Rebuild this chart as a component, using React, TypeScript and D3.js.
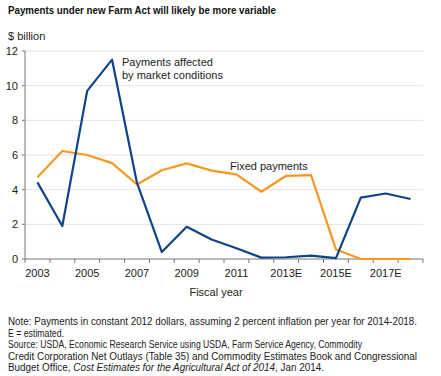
import React from "react";
import * as d3 from "d3";

const years = ["2003","2004","2005","2006","2007","2008","2009","2010","2011","2012","2013E","2014E","2015E","2016E","2017E","2018E"];
const xTickLabels = ["2003","2005","2007","2009","2011","2013E","2015E","2017E"];
const marketPayments = [4.42,1.9,9.7,11.5,4.4,0.4,1.86,1.13,0.62,0.08,0.1,0.2,0.05,3.54,3.78,3.46];
const fixedPayments = [4.71,6.23,6.0,5.53,4.3,5.12,5.52,5.1,4.88,3.88,4.8,4.84,0.55,0,0,0];
const yTicks = [0,2,4,6,8,10,12];

const W = 441, H = 376;
const left = 25, right = 423, top = 51, bottom = 259;
const FONT = "Liberation Sans, Arial, Helvetica, sans-serif";

export default function App() {
  const x = d3.scaleBand<string>().domain(years).range([left, right]);
  const y = d3.scaleLinear().domain([0, 12]).range([bottom, top]);
  const line = d3.line<number>()
    .x((_, i) => (x(years[i]) as number) + x.bandwidth() / 2)
    .y(d => y(d));
  const boundaries = years.map(yr => x(yr) as number).concat([right]);

  return (
    <svg width={W} height={H} style={{ position: "absolute", left: 0, top: 0, background: "#fff" }} fontFamily={FONT}>
      <text x={8} y={14} fontSize={11} fontWeight="bold" fill="#111" textLength={268} lengthAdjust="spacingAndGlyphs">Payments under new Farm Act will likely be more variable</text>
      <text x={8} y={40} fontSize={11} fill="#222">$ billion</text>
      {yTicks.map(t => (
        <g key={t}>
          {t > 0 && <line x1={left} x2={right} y1={y(t)} y2={y(t)} stroke="#e3e3e3" strokeWidth={1} />}
          <line x1={left - 3} x2={left} y1={y(t)} y2={y(t)} stroke="#777" />
          <text x={18} y={y(t)} dy="0.35em" textAnchor="end" fontSize={11} fill="#222">{t}</text>
        </g>
      ))}
      <line x1={left} x2={left} y1={top} y2={bottom} stroke="#777" />
      <line x1={left} x2={right} y1={bottom} y2={bottom} stroke="#777" />
      {boundaries.map((b, i) => (
        <line key={i} x1={b} x2={b} y1={bottom} y2={bottom + 4} stroke="#777" />
      ))}
      {xTickLabels.map(l => {
        const key = years.find(yr => yr === l) as string;
        return (
          <text key={l} x={(x(key) as number) + x.bandwidth() / 2} y={277} textAnchor="middle" fontSize={11} fill="#222">{l}</text>
        );
      })}
      <text x={216} y={296} textAnchor="middle" fontSize={11} fill="#222">Fiscal year</text>
      <path d={line(fixedPayments) as string} fill="none" stroke="#f5981f" strokeWidth={2.2} strokeLinejoin="round" />
      <path d={line(marketPayments) as string} fill="none" stroke="#0e4488" strokeWidth={2.2} strokeLinejoin="round" />
      <text x={122} y={66} fontSize={11} fill="#222">Payments affected</text>
      <text x={122} y={79} fontSize={11} fill="#222">by market conditions</text>
      <text x={230} y={170} fontSize={11} fill="#222">Fixed payments</text>
      <g fontSize={10} fill="#222">
        <text x={8} y={325} textLength={409} lengthAdjust="spacingAndGlyphs">Note: Payments in constant 2012 dollars, assuming 2 percent inflation per year for 2014-2018.</text>
        <text x={8} y={336.5} textLength={56} lengthAdjust="spacingAndGlyphs">E = estimated.</text>
        <text x={8} y={348} textLength={354} lengthAdjust="spacingAndGlyphs">Source: USDA, Economic Research Service using USDA, Farm Service Agency, Commodity</text>
        <text x={8} y={359.5} textLength={409} lengthAdjust="spacingAndGlyphs">Credit Corporation Net Outlays (Table 35) and Commodity Estimates Book and Congressional</text>
        <text x={8} y={371} textLength={316} lengthAdjust="spacingAndGlyphs">Budget Office, <tspan fontStyle="italic">Cost Estimates for the Agricultural Act of 2014</tspan>, Jan 2014.</text>
      </g>
    </svg>
  );
}
